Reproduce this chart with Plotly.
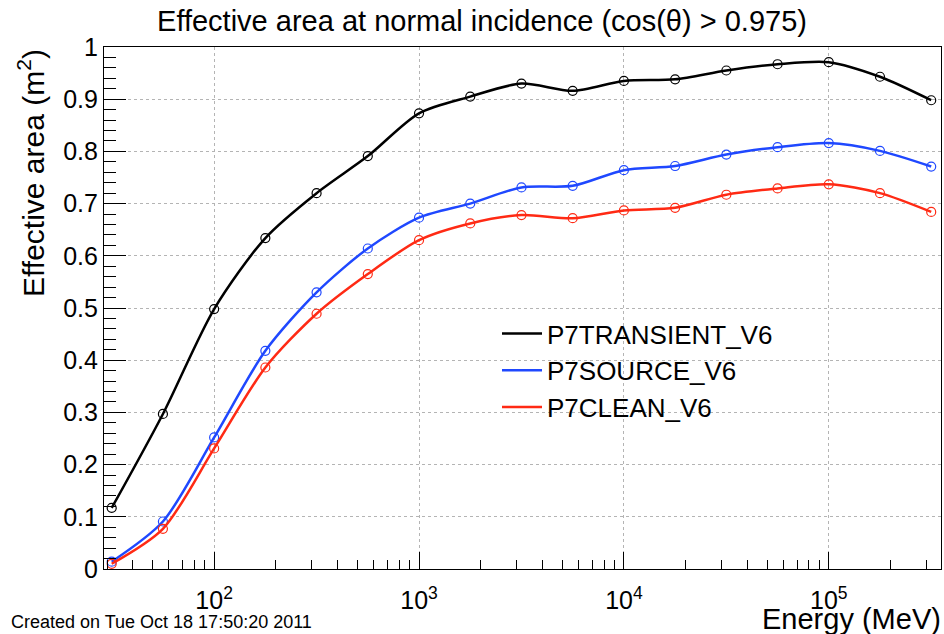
import numpy as np
import plotly.graph_objects as go

energy = [31.62, 56.23, 100.0, 177.83, 316.23, 562.34, 1000.0, 1778.3, 3162.3,
          5623.4, 10000.0, 17783.0, 31623.0, 56234.0, 100000.0, 177828.0, 316228.0]
transient = [0.117, 0.297, 0.498, 0.634, 0.720, 0.791, 0.873, 0.905, 0.930,
             0.916, 0.935, 0.938, 0.955, 0.967, 0.971, 0.943, 0.898]
source = [0.014, 0.091, 0.252, 0.418, 0.530, 0.614, 0.673, 0.700, 0.731,
          0.734, 0.764, 0.772, 0.794, 0.808, 0.816, 0.801, 0.771]
clean = [0.010, 0.077, 0.231, 0.386, 0.489, 0.565, 0.630, 0.662, 0.678,
         0.672, 0.687, 0.692, 0.717, 0.729, 0.737, 0.720, 0.684]

series_names = ["P7TRANSIENT_V6", "P7SOURCE_V6", "P7CLEAN_V6"]
series_values = [transient, source, clean]
series_colors = ["#000000", "#1f48ff", "#ff2a14"]

x_tick_vals = [100, 1000, 10000, 100000]
x_tick_text = ["10<sup>2</sup>", "10<sup>3</sup>", "10<sup>4</sup>", "10<sup>5</sup>"]
x_minor_vals = [m * 10 ** d for d in range(1, 6) for m in range(2, 10)]
y_tick_vals = [0, 0.1, 0.2, 0.3, 0.4, 0.5, 0.6, 0.7, 0.8, 0.9, 1.0]
y_tick_text = ["0", "0.1", "0.2", "0.3", "0.4", "0.5", "0.6", "0.7", "0.8", "0.9", "1"]

FONT = "Liberation Sans, Arial, sans-serif"
W, H = 944, 634
ML, MR, MT, MB = 104, 3, 47, 65
PW, PH = W - ML - MR, H - MT - MB


def px_x(px):
    return (px - ML) / PW


def px_y(py):
    return (H - MB - py) / PH


fig = go.Figure()
for name, vals, col in zip(series_names, series_values, series_colors):
    fig.add_trace(go.Scatter(
        x=energy, y=vals, mode="lines+markers", name=name, showlegend=False,
        line=dict(color=col, width=2.5, shape="spline", smoothing=0.8),
        marker=dict(symbol="circle-open", size=9, color=col, line=dict(width=1.2)),
    ))
for name, col in zip(series_names, series_colors):
    fig.add_trace(go.Scatter(
        x=[None], y=[None], mode="lines", name=name,
        line=dict(color=col, width=2.5),
    ))

fig.update_layout(
    width=W, height=H,
    margin=dict(l=ML, r=MR, t=MT, b=MB),
    paper_bgcolor="white", plot_bgcolor="white",
    font=dict(family=FONT, color="black"),
    title=dict(text="Effective area at normal incidence (cos(θ) > 0.975)",
               xref="container", x=482 / W, xanchor="center",
               yref="container", y=1 - 21 / H, yanchor="middle",
               font=dict(size=29, family=FONT)),
    legend=dict(x=px_x(497), y=px_y(310), xanchor="left", yanchor="top",
                bgcolor="rgba(0,0,0,0)", font=dict(size=26, family=FONT),
                itemwidth=40, tracegroupgap=0),
    showlegend=True,
)

fig.update_xaxes(
    type="log", range=[np.log10(29.0), np.log10(353000)],
    tickvals=x_tick_vals, ticktext=x_tick_text,
    ticks="inside", ticklen=17, tickwidth=1.2, tickcolor="black",
    tickfont=dict(size=25, family=FONT), ticklabelstandoff=9,
    minor=dict(tickvals=x_minor_vals, ticks="inside", ticklen=9,
               tickwidth=1.2, tickcolor="black", showgrid=False),
    showgrid=True, gridcolor="#b4b4b4", griddash="3px,3px", gridwidth=1,
    showline=True, linecolor="black", linewidth=1.2, mirror=True,
    zeroline=False, automargin=False,
)
fig.update_yaxes(
    range=[0, 1], tickvals=y_tick_vals, ticktext=y_tick_text,
    ticks="inside", ticklen=22, tickwidth=1.2, tickcolor="black",
    tickfont=dict(size=25, family=FONT),
    minor=dict(dtick=0.02, ticks="inside", ticklen=12, tickwidth=1.2,
               tickcolor="black", showgrid=False),
    showgrid=True, gridcolor="#b4b4b4", griddash="3px,3px", gridwidth=1,
    showline=True, linecolor="black", linewidth=1.2, mirror=True,
    zeroline=False, automargin=False,
)

fig.add_annotation(text="Effective area (m<sup>2</sup>)", textangle=-90,
                   xref="paper", yref="paper", x=px_x(31), y=1.0,
                   xanchor="center", yanchor="top", showarrow=False,
                   font=dict(size=30, family=FONT, color="black"))
fig.add_annotation(text="Energy (MeV)", xref="paper", yref="paper",
                   x=px_x(943), y=px_y(619), xanchor="right", yanchor="middle",
                   showarrow=False, font=dict(size=29, family=FONT, color="black"))
fig.add_annotation(text="Created on Tue Oct 18 17:50:20 2011", xref="paper", yref="paper",
                   x=px_x(9), y=px_y(622), xanchor="left", yanchor="middle", showarrow=False,
                   font=dict(size=18, family=FONT, color="black"))

fig.write_html("out.html", config={"displayModeBar": False},
               post_script="document.body.style.margin='0px';document.body.style.overflow='hidden';")
